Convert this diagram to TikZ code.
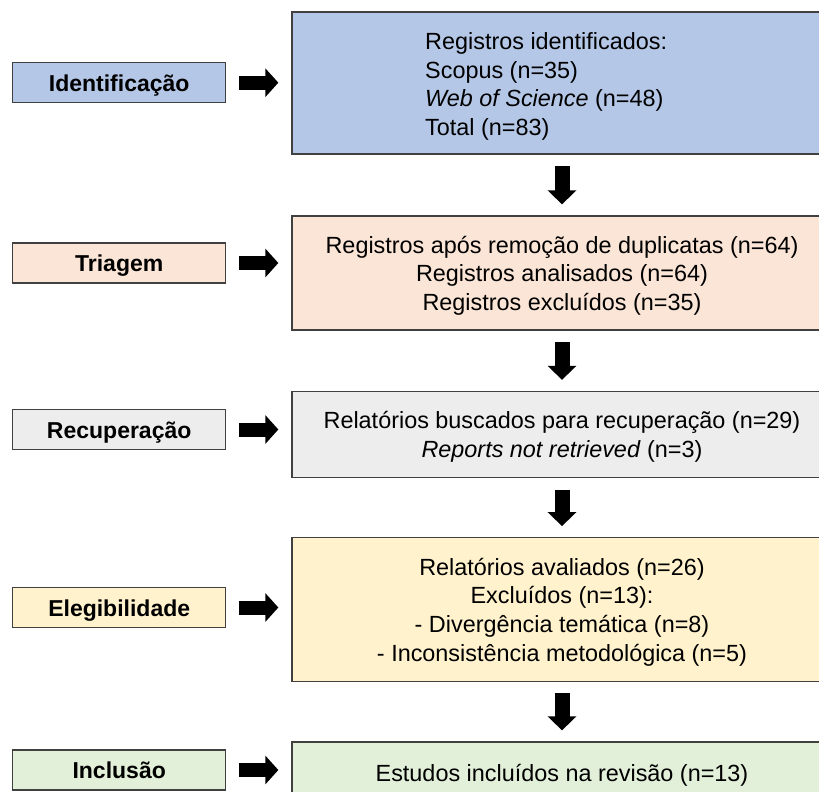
\documentclass[tikz,border=0pt]{standalone}
\usepackage{fontspec}
\setmainfont{Liberation Sans}
\usetikzlibrary{arrows.meta}
\definecolor{cblue}{HTML}{B4C7E7}
\definecolor{cpink}{HTML}{FBE5D6}
\definecolor{cgray}{HTML}{EDEDED}
\definecolor{cyellow}{HTML}{FFF2CC}
\definecolor{cgreen}{HTML}{E2F0D9}
\definecolor{cline}{HTML}{404040}
\begin{document}
\begin{tikzpicture}[x=1pt,y=-1pt,
  every node/.style={font=\fontsize{23.4}{28.6}\selectfont, inner sep=0pt, text=black},
  stage/.style={draw=cline, line width=1.3pt, minimum width=213pt, minimum height=40pt,
    text height=17.4pt, text depth=0pt,
    font=\fontsize{23}{28}\selectfont\bfseries},
  panel/.style={draw=cline, line width=1.3pt, minimum width=540pt},
  paneltext/.style={align=center},
  sidearrow/.style={line width=14pt, -{Triangle[width=28pt,length=13pt]}, shorten <=13pt, shorten >=13pt},
  downarrow/.style={line width=15pt, -{Triangle[width=28pt,length=14pt]}, shorten <=11.5pt, shorten >=11pt}
]
\useasboundingbox (0,0) rectangle (819,792);
\clip (0,0) rectangle (819,792);
\fill[white] (0,0) rectangle (819,792);

% stage labels
\node[stage, fill=cblue]   (s1) at (119.2,82.7) {Identificação};
\node[stage, fill=cpink]   (s2) at (119.2,263)  {Triagem};
\node[stage, fill=cgray]   (s3) at (119.2,429.5){Recuperação};
\node[stage, fill=cyellow] (s4) at (119.2,607.5){Elegibilidade};
\node[stage, fill=cgreen]  (s5) at (119.2,770)  {Inclusão};

% panels
\node[panel, fill=cblue, minimum height=142pt] (p1) at (562,83) {};
\node[anchor=west, align=left] (p1t) at (425,86.5)
  {Registros identificados:\\Scopus (n=35)\\\textit{Web of Science} (n=48)\\Total (n=83)};
\node[panel, fill=cpink, minimum height=114pt] (p2) at (562,273) {};
\node[paneltext] (p2t) at (562,275.5)
  {Registros após remoção de duplicatas (n=64)\\Registros analisados (n=64)\\Registros excluídos (n=35)};
\node[panel, fill=cgray, minimum height=86pt] (p3) at (562,434.5) {};
\node[paneltext] (p3t) at (562,437)
  {Relatórios buscados para recuperação (n=29)\\\textit{Reports not retrieved} (n=3)};
\node[panel, fill=cyellow, minimum height=143.5pt] (p4) at (562,609.5) {};
\node[paneltext] (p4t) at (562,612)
  {Relatórios avaliados (n=26)\\Excluídos (n=13):\\- Divergência temática (n=8)\\- Inconsistência metodológica (n=5)};
\node[panel, fill=cgreen, minimum height=62pt] (p5) at (562,773) {};
\node[paneltext] (p5t) at (562,775)
  {Estudos incluídos na revisão (n=13)};

% side arrows
\foreach \i in {1,...,5}{
  \draw[sidearrow] (s\i.east) -- (s\i.east -| p\i.west);
}
% down arrows
\draw[downarrow] (p1.south) -- (p2.north);
\draw[downarrow] (p2.south) -- (p3.north);
\draw[downarrow] (p3.south) -- (p4.north);
\draw[downarrow] (p4.south) -- (p5.north);
\end{tikzpicture}
\end{document}
